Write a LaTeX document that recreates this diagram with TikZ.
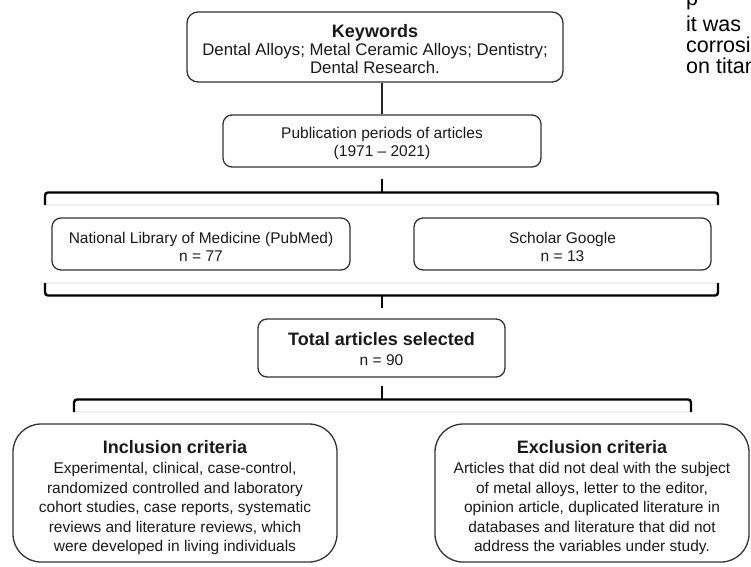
\documentclass[tikz,border=0pt]{standalone}
\usepackage{fontspec}
\setmainfont{Liberation Sans}
\newcommand\hdtext[1]{{\fontsize{18}{18}\selectfont\bfseries #1}}
\begin{document}
\begin{tikzpicture}[x=1pt,y=-1pt,
  box/.style={draw=black!80, line width=1.3pt, rounded corners=9pt, inner sep=0pt},
  bigbox/.style={box, rounded corners=28pt},
  txt/.style={align=center, inner sep=0pt, text=black!90, font=\fontsize{15.5}{18}\selectfont},
  bigtxt/.style={txt, font=\fontsize{15.5}{19.6}\selectfont},
  brk/.style={line width=2.4pt, rounded corners=3pt},
  tick/.style={line width=2.4pt},
  faint/.style={line width=1.5pt, draw=black!6},
  link/.style={line width=2pt, draw=black!85},
  side/.style={anchor=base west, inner sep=0pt, font=\fontsize{21.5}{21}\selectfont}]
\useasboundingbox (0,0) rectangle (751,566);

% boxes
\node[box, minimum width=376pt, minimum height=70pt, rounded corners=11pt] (kw) at (375,47) {};
\node[txt, yshift=-2.5pt] (kwt) at (kw.center)
  {\hdtext{Keywords}\\{\fontsize{16.8}{18}\selectfont Dental Alloys; Metal Ceramic Alloys; Dentistry;}\\{\fontsize{16.8}{18}\selectfont Dental Research.}};
\node[box, minimum width=318pt, minimum height=52pt] (pub) at (382,141) {};
\node[txt, yshift=-2.5pt] (pubt) at (pub.center)
  {Publication periods of articles\\(1971 -- 2021)};
\node[box, minimum width=298pt, minimum height=52pt] (pm) at (201,244) {};
\node[txt, yshift=-2.5pt] (pmt) at (pm.center)
  {National Library of Medicine (PubMed)\\n = 77};
\node[box, minimum width=297pt, minimum height=52pt] (sg) at (562.5,244) {};
\node[txt, yshift=-2.5pt] (sgt) at (sg.center)
  {Scholar Google\\n = 13};
\node[box, minimum width=247pt, minimum height=58pt] (tot) at (381.5,348) {};
\node[txt, yshift=-1.5pt] (tott) at (tot.center)
  {\hdtext{Total articles selected}\\[2pt]n = 90};
\node[bigbox, minimum width=324pt, minimum height=138pt] (inc) at (175,493) {};
\node[bigtxt, yshift=-5pt] (inct) at (inc.center)
  {\hdtext{Inclusion criteria}\\Experimental, clinical, case-control,\\randomized controlled and laboratory\\cohort studies, case reports, systematic\\reviews and literature reviews, which\\were developed in living individuals};
\node[bigbox, minimum width=314pt, minimum height=138pt] (exc) at (592,493) {};
\node[bigtxt, yshift=-5pt] (exct) at (exc.center)
  {\hdtext{Exclusion criteria}\\Articles that did not deal with the subject\\of metal alloys, letter to the editor,\\opinion article, duplicated literature in\\databases and literature that did not\\address the variables under study.};

% link keywords -> publication
\draw[link] (pub.north) -- (pub.north |- kw.south);

% upper brace
\coordinate (t1) at (382,179);
\coordinate (c1) at (382,192.5);
\coordinate (l1) at (45,205);
\coordinate (r1) at (718,205);
\draw[faint] (l1) -- (r1);
\draw[brk] (l1) |- (c1) -| (r1);
\draw[tick] (t1) -- (c1);

% lower brace
\coordinate (l2) at (45,283);
\coordinate (r2) at (718,283);
\coordinate (c2) at (382,295.5);
\coordinate (t2) at (382,308);
\draw[faint] (l2) -- (r2);
\draw[brk] (l2) |- (c2) -| (r2);
\draw[tick] (c2) -- (t2);

% third brace
\coordinate (t3) at (382,386);
\coordinate (c3) at (382,399.5);
\coordinate (l3) at (74,412);
\coordinate (r3) at (691,412);
\draw[faint] (l3) -- (r3);
\draw[brk] (l3) |- (c3) -| (r3);
\draw[tick] (t3) -- (c3);

% cropped text of the page beside the figure
\begin{scope}
\clip (566,0) rectangle (751,566);
\node[side] (p0) at (686,5) {p};
\node[side] (p1) at (686,31) {it was};
\node[side] (p2) at (686,52) {corrosion};
\node[side] (p3) at (686,73) {on titanium};
\end{scope}
\end{tikzpicture}
\end{document}
